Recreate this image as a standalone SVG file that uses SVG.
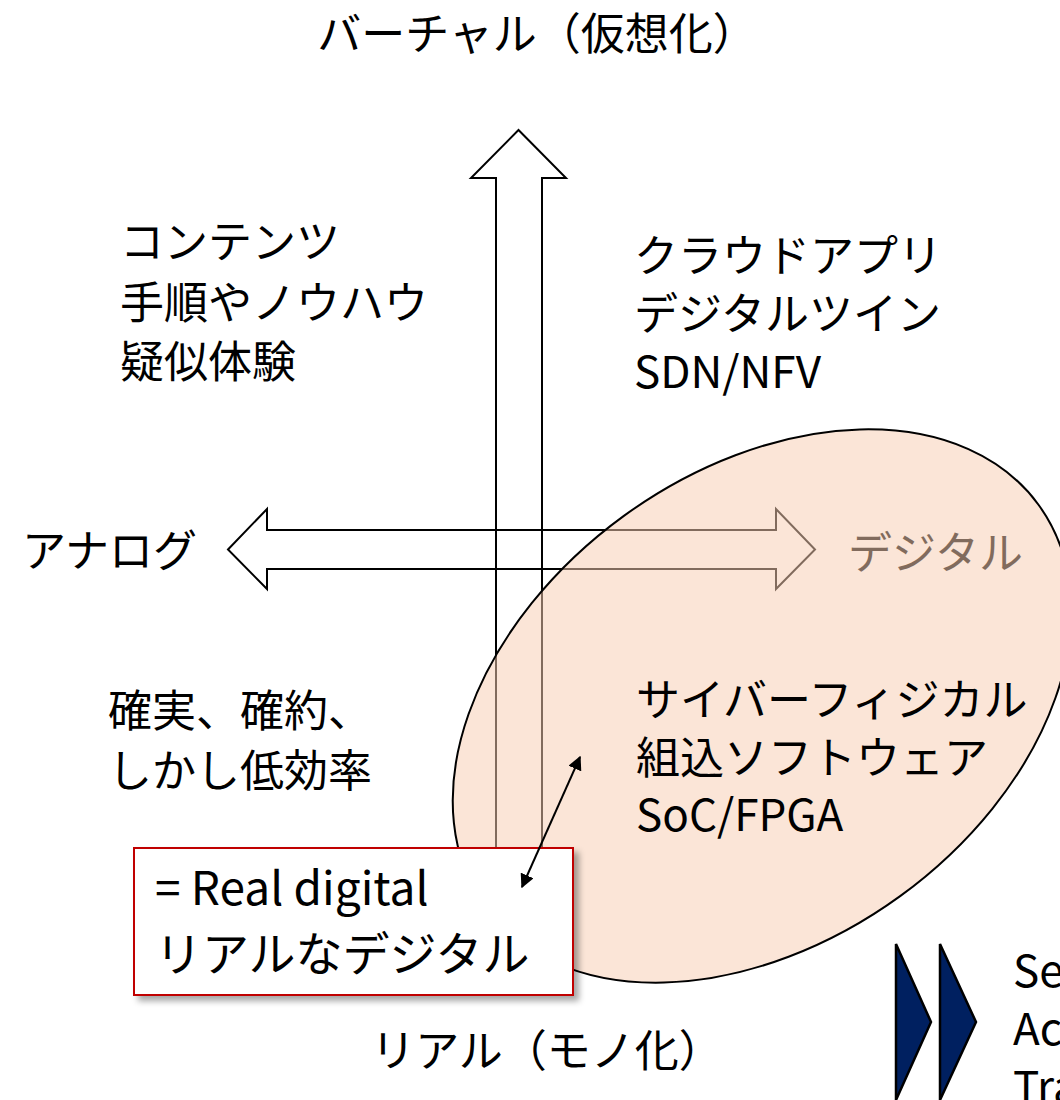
<svg xmlns="http://www.w3.org/2000/svg" width="1060" height="1100" viewBox="0 0 1060 1100">
<defs>
<style>
text{font-family:'Noto Sans CJK JP','Noto Sans',sans-serif;fill:#000;font-size:44px}
.big{font-size:47px}
.axis{fill:none;stroke:#000;stroke-width:2}
.tri{fill:#002060;stroke:#000;stroke-width:2.5;stroke-linejoin:miter}
</style>
<marker id="ah" viewBox="0 0 10 10" refX="9" refY="5" markerWidth="7" markerHeight="7" orient="auto-start-reverse" markerUnits="strokeWidth">
<path d="M0,0 L10,5 L0,10 z" fill="#000"/>
</marker>
<filter id="sh" x="-10%" y="-10%" width="130%" height="130%">
<feDropShadow dx="5" dy="5" stdDeviation="3" flood-color="#000" flood-opacity="0.35"/>
</filter>
</defs>
<rect width="1060" height="1100" fill="#fff"/>
<g id="connectors">
<path id="v-axis" class="axis" d="M496,900 L496,178 L471,178 L518.5,130 L566,178 L542,178 L542,900"/>
<path id="h-axis" class="axis" d="M228,549.5 L267,509 L267,530 L776,530 L776,509 L815,549.5 L776,589 L776,569 L267,569 L267,589 Z"/>
</g>
<g id="label-digital"><text x="848" y="569">デジタル</text></g>
<g id="ellipse-node"><ellipse cx="762" cy="706" rx="342" ry="235" transform="rotate(-36 762 706)" fill="#F7CDB2" fill-opacity="0.52" stroke="#000" stroke-width="2"/></g>
<g id="box-node">
<rect x="134" y="848" width="439" height="147" fill="#fff" stroke="#C00000" stroke-width="2" filter="url(#sh)"/>
<text x="155" y="905" style="font-size:46px">= Real digital</text>
<text x="155" y="971" class="big">リアルなデジタル</text>
</g>
<g id="link"><line x1="580" y1="757" x2="522" y2="887" stroke="#000" stroke-width="2" marker-start="url(#ah)" marker-end="url(#ah)"/></g>
<g id="label-virtual"><text x="537" y="50" text-anchor="middle">バーチャル（仮想化）</text></g>
<g id="label-real"><text x="547" y="1067" text-anchor="middle">リアル（モノ化）</text></g>
<g id="label-analog"><text x="22" y="567">アナログ</text></g>
<g id="quad-tl">
<text x="120" y="258">コンテンツ</text>
<text x="120" y="319">手順やノウハウ</text>
<text x="120" y="378">疑似体験</text>
</g>
<g id="quad-tr">
<text x="634" y="272">クラウドアプリ</text>
<text x="634" y="330">デジタルツイン</text>
<text x="634" y="388">SDN/NFV</text>
</g>
<g id="quad-bl">
<text x="108" y="727">確実、確約、</text>
<text x="108" y="787">しかし低効率</text>
</g>
<g id="quad-br">
<text x="636" y="716">サイバーフィジカル</text>
<text x="636" y="774">組込ソフトウェア</text>
<text x="636" y="831">SoC/FPGA</text>
</g>
<g id="chevrons">
<polygon class="tri" points="896,944 931,1022 896,1100"/>
<polygon class="tri" points="940,944 976,1022 940,1100"/>
</g>
<g id="steps">
<text x="1013" y="987">Se</text>
<text x="1013" y="1045">Ac</text>
<text x="1013" y="1103">Tra</text>
</g>
</svg>
